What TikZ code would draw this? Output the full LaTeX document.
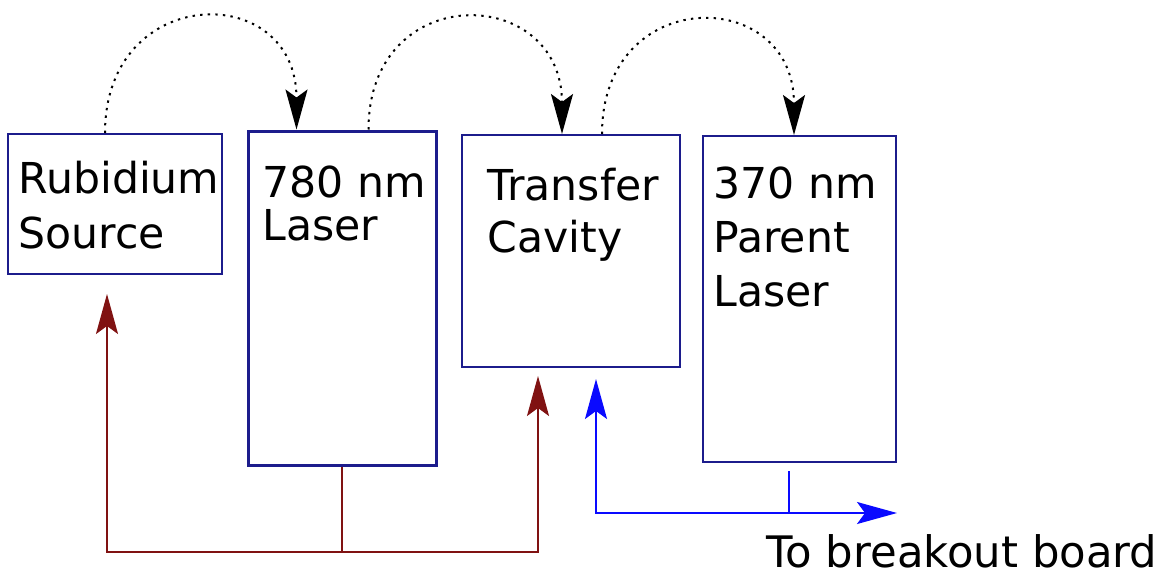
\documentclass[tikz,border=0pt]{standalone}
\usepackage{fontspec}
\setmainfont{DejaVu Sans}
\usepackage{xcolor}
\usepackage{tikz}
\usetikzlibrary{arrows.meta, positioning, fit, calc}
\definecolor{boxnavy}{RGB}{28, 28, 140}
\definecolor{feedred}{RGB}{128, 18, 18}
\definecolor{sigblue}{RGB}{10, 10, 255}

\begin{document}
\begin{tikzpicture}[
    x=0.5pt, y=-0.5pt,
    blk/.style={rectangle, draw=boxnavy, line width=1pt, inner sep=0pt},
    lbl/.style={anchor=base west, inner sep=0pt, align=left, font=\fontsize{21.3}{27}\selectfont},
    tip/.style={-{Stealth[length=20pt, width=11pt, inset=4pt]}},
    hop/.style={tip, draw=black, line width=1pt, dash pattern=on 1.2pt off 2.6pt},
    feed/.style={tip, draw=feedred, line width=1pt},
    sig/.style={draw=sigblue, line width=1pt}
]
    \useasboundingbox (0,0) rectangle (1166,578);
    % boxes
    \node[blk, fit={(8,134) (222,274)}] (rb) {};
    \node[blk, line width=1.5pt, fit={(248,131) (436,465)}] (laser) {};
    \node[blk, fit={(462,135) (680,367)}] (cav) {};
    \node[blk, fit={(703,136) (896,462)}] (parent) {};
    % labels (anchored on the last line)
    \node[lbl, font=\fontsize{21.3}{27.5}\selectfont] (rbtxt) at (18,248) {Rubidium\\Source};
    \node[lbl, font=\fontsize{21.3}{21.5}\selectfont] (lasertxt) at (262,240) {780 nm\\Laser};
    \node[lbl, font=\fontsize{21.3}{26}\selectfont] (cavtxt) at (487,252) {Transfer\\Cavity};
    \node[lbl] (parenttxt) at (713,306) {370 nm\\Parent\\Laser};
    \node[lbl, font=\fontsize{21.7}{27}\selectfont] (brk) at (766,567) {To breakout board};
    % dotted hops
    \draw[hop] ($(rb.north west)+(98,0)$) .. controls +(0,-150) and +(0,-150) .. ($(laser.north west)+(50,0)$);
    \draw[hop] ($(laser.north west)+(122,0)$) .. controls +(0,-150) and +(0,-150) .. ($(cav.north west)+(101,0)$);
    \draw[hop] ($(cav.north west)+(141,0)$) .. controls +(0,-150) and +(0,-150) .. ($(parent.north west)+(92,0)$);
    % red feed lines
    \draw[feed] (laser.south) -- ++(0,85) coordinate (split) -| ($(rb.south west)+(100,19)$);
    \draw[feed] (split) -| ($(cav.south west)+(77,8)$);
    % blue lines
    \coordinate (brkout) at (897,513);
    \draw[sig, {Stealth[length=20pt, width=11pt, inset=4pt]}-{Stealth[length=20pt, width=11pt, inset=4pt]}] ($(cav.south west)+(135,11)$) |- (brkout);
    \draw[sig] ($(parent.south west)+(87,8)$) -- (brkout -| {$(parent.south west)+(87,8)$});
\end{tikzpicture}
\end{document}
